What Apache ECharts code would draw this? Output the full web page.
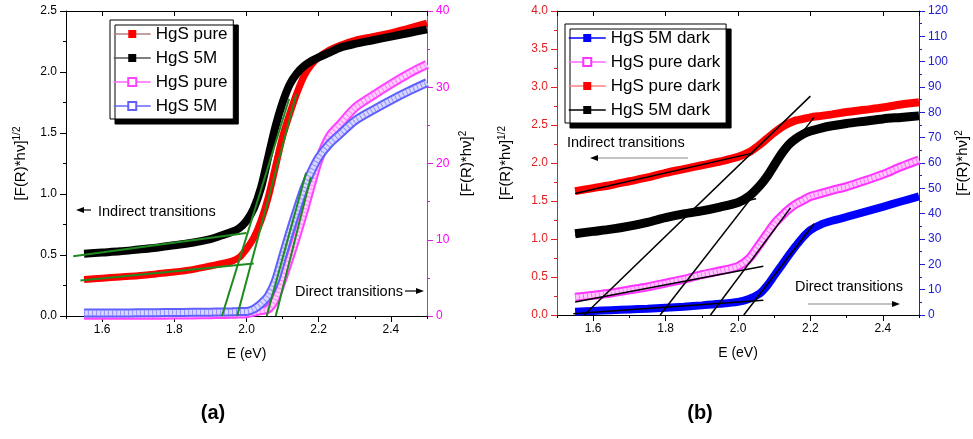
<!DOCTYPE html>
<html><head><meta charset="utf-8">
<script src="https://cdn.jsdelivr.net/npm/echarts@6/dist/echarts.min.js"></script>
<style>html,body{margin:0;padding:0;background:#fff}#c{width:973px;height:439px}</style>
</head><body><div id="c"></div>
<script>
// ---------- Panel (a) data ----------
const xA = [1.55,1.6,1.65,1.7,1.75,1.8,1.85,1.9,1.93,1.96,1.98,2.0,2.02,2.04,2.06,2.08,2.1,2.12,2.14,2.16,2.18,2.2,2.23,2.26,2.3,2.35,2.4,2.45,2.5];
const aPureIndirect = [0.30,0.31,0.32,0.33,0.345,0.36,0.38,0.41,0.43,0.45,0.48,0.55,0.64,0.78,0.97,1.22,1.47,1.66,1.83,1.97,2.06,2.12,2.18,2.22,2.26,2.29,2.32,2.36,2.40];
const a5MIndirect   = [0.51,0.52,0.53,0.545,0.56,0.58,0.60,0.63,0.66,0.69,0.72,0.78,0.88,1.05,1.30,1.55,1.75,1.90,1.99,2.05,2.09,2.12,2.16,2.20,2.23,2.26,2.29,2.32,2.35];
const aPureDirect   = [0.1,0.1,0.1,0.1,0.1,0.12,0.14,0.17,0.2,0.22,0.25,0.3,0.5,0.7,0.9,2.2,4.8,7.6,10.6,13.8,17.2,20.4,23.6,25.2,27.3,28.9,30.4,31.8,33.0];
const a5MDirect     = [0.4,0.4,0.4,0.42,0.44,0.46,0.48,0.5,0.52,0.55,0.58,0.6,0.9,1.6,2.6,4.6,7.8,11.0,14.0,16.8,19.0,20.8,22.6,23.9,25.6,27.0,28.3,29.5,30.6];
const aFitIndirect = [
  [[1.52,0.49],[2.0,0.68]],
  [[1.54,0.29],[2.02,0.43]],
  [[1.932,0],[2.118,1.78]],
  [[1.974,0],[2.138,1.82]]
];
const aFitDirect = [
  [[2.056,0],[2.165,18.8]],
  [[2.081,0],[2.178,18.2]]
];
const aTicksLeft = [0, 2.5, 0.5];
const aTicksRight = [0, 40, 10];

// ---------- Panel (b) data ----------
const xB = [1.55,1.6,1.65,1.7,1.75,1.8,1.85,1.9,1.95,2.0,2.03,2.06,2.08,2.1,2.12,2.14,2.16,2.18,2.2,2.23,2.26,2.3,2.35,2.4,2.45,2.5];
const b5MDirect     = [1.3,1.6,1.9,2.2,2.5,2.9,3.3,3.8,4.4,5.2,6.3,8.5,11.5,15.5,19.5,23.5,27.3,30.8,33.5,35.8,37.2,38.7,40.7,42.7,44.8,46.8];
const bPureDirect   = [7.0,7.8,8.7,9.9,11.1,12.6,14.1,15.9,17.4,19.2,22.2,28.0,32.0,36.0,39.0,41.7,43.8,45.3,46.8,48.0,49.2,50.7,53.0,55.5,58.5,61.2];
const bPureIndirect = [1.63,1.67,1.71,1.76,1.81,1.87,1.92,1.97,2.02,2.08,2.14,2.24,2.32,2.40,2.47,2.52,2.56,2.58,2.60,2.62,2.64,2.67,2.70,2.73,2.77,2.80];
const b5MIndirect   = [1.07,1.10,1.13,1.17,1.22,1.28,1.33,1.37,1.42,1.48,1.56,1.70,1.82,1.97,2.12,2.24,2.32,2.38,2.42,2.46,2.49,2.52,2.55,2.58,2.60,2.62];
const bFitLeft = [
  [[1.575,0],[2.2,2.88]],
  [[1.785,0],[2.21,2.6]],
  [[1.55,1.6],[2.04,2.13]],
  [[1.55,1.05],[2.05,1.53]]
];
const bFitRight = [
  [[1.924,0],[2.145,42.3]],
  [[2.016,0],[2.21,36]],
  [[1.55,5.1],[2.07,19.2]],
  [[1.545,0.5],[2.07,5.8]]
];
const bTicksLeft = [0, 4, 0.5];
const bTicksRight = [0, 120, 10];
const xRange = [1.5, 2.5];

// ---------- helpers ----------
const FONT = '"Liberation Sans", Arial, sans-serif';
const zip = (xs, ys) => xs.map((x, i) => [x, ys[i]]);

function xAxesFor(gi) {
  return [
    {gridIndex:gi, type:'value', min:xRange[0], max:xRange[1], splitNumber:5, position:'bottom',
     axisLine:{show:true, onZero:false, lineStyle:{color:'#000', width:1}},
     axisTick:{show:true, length:6, lineStyle:{color:'#000', width:1}},
     axisLabel:{show:true, showMinLabel:false, showMaxLabel:false, color:'#000', fontSize:12, fontFamily:FONT, margin:8, formatter:v=>v.toFixed(1)},
     splitLine:{show:false},
     name:'E (eV)', nameLocation:'middle', nameGap:31,
     nameTextStyle:{color:'#000', fontSize:14, fontFamily:FONT}},
    {gridIndex:gi, type:'value', min:xRange[0], max:xRange[1], interval:0.1, position:'bottom',
     axisLine:{show:false, onZero:false}, axisTick:{show:true, length:3, lineStyle:{color:'#000', width:1}},
     axisLabel:{show:false}, splitLine:{show:false}},
    {gridIndex:gi, type:'value', min:xRange[0], max:xRange[1], splitNumber:5, position:'top',
     axisLine:{show:true, onZero:false, lineStyle:{color:'#000', width:1}},
     axisTick:{show:true, inside:true, length:5, lineStyle:{color:'#000', width:1}},
     axisLabel:{show:false}, splitLine:{show:false}}
  ];
}
function yAxis(gi, pos, t, color, labelColor, sup, gap) {
  return {gridIndex:gi, type:'value', position:pos, min:t[0], max:t[1], interval:t[2],
    axisLine:{show:true, onZero:false, lineStyle:{color:color, width:1}},
    axisTick:{show:true, length:6, lineStyle:{color:color, width:1}},
    minorTick:{show:true, splitNumber:2, length:3, lineStyle:{color:color, width:1}},
    axisLabel:{color:labelColor, fontSize:12, fontFamily:FONT, margin:9,
      formatter: v => (t[2] < 1 ? v.toFixed(1) : String(v))},
    splitLine:{show:false}, minorSplitLine:{show:false},
    name:'[F(R)*hν]{s|' + sup + '}', nameLocation:'middle', nameRotate:90, nameGap:gap,
    nameTextStyle:{color:'#000', fontSize:15, fontFamily:FONT, lineHeight:18,
      rich:{s:{fontSize:10, fontFamily:FONT, color:'#000', verticalAlign:'top', lineHeight:10}}}
  };
}
function band(name, data, xi, yi, color, width) {
  return {type:'line', name, data, xAxisIndex:xi, yAxisIndex:yi, symbol:'rect', showSymbol:false,
    smooth:0.3, lineStyle:{color, width}, itemStyle:{color}, silent:true, animation:false};
}
function hollow(name, data, xi, yi, color, light) {
  return [
    {type:'line', name, data, xAxisIndex:xi, yAxisIndex:yi, symbol:'emptyRect', showSymbol:false,
     smooth:0.3, lineStyle:{color, width:9}, itemStyle:{color}, silent:true, animation:false},
    {type:'line', data, xAxisIndex:xi, yAxisIndex:yi, symbol:'none',
     smooth:0.3, lineStyle:{color:light, width:5}, silent:true, animation:false},
    {type:'line', data, xAxisIndex:xi, yAxisIndex:yi, symbol:'none',
     smooth:0.3, lineStyle:{color, width:5, type:[1,3], opacity:0.6}, silent:true, animation:false}
  ];
}
function fits(lines, xi, yi, color, width) {
  return lines.map(l => ({type:'line', data:l, xAxisIndex:xi, yAxisIndex:yi, symbol:'none',
    lineStyle:{color, width}, silent:true, animation:false, z:5}));
}
function legendFor(left, top, names, lineColors) {
  return {left, top, orient:'vertical', selectedMode:false,
    data: names.map((n, i) => ({name:n, lineStyle:{color:lineColors[i]}})),
    itemWidth:37, itemHeight:10, itemGap:6, padding:[5,1,4,3],
    backgroundColor:'#fff', borderColor:'#000', borderWidth:1,
    shadowColor:'#000', shadowOffsetX:5, shadowOffsetY:5, shadowBlur:0,
    lineStyle:{width:1.5},
    textStyle:{fontSize:17, lineHeight:18, color:'#000', fontFamily:FONT}};
}
function arrow(x1, y, x2, lineColor, headColor) {
  const dir = x2 > x1 ? 1 : -1;
  return [
    {type:'line', shape:{x1:x1, y1:y, x2:x2 - dir*5, y2:y}, style:{stroke:lineColor, lineWidth:1.2}, silent:true},
    {type:'polygon', shape:{points:[[x2, y],[x2 - dir*8, y-3],[x2 - dir*8, y+3]]}, style:{fill:headColor}, silent:true}
  ];
}
function label(x, y, text, size, weight, align) {
  return {type:'text', x, y, style:{text, fill:'#000', font:(weight||'normal') + ' ' + size + 'px ' + FONT,
    textAlign:align||'left', textVerticalAlign:'middle'}, silent:true};
}

const RED = '#ff0000', BLACK = '#000000', BLUE = '#0000ff';
const MAG = '#dd22dd', LRED = '#e02020', RBLUE = '#2020d0';

const option = {
  backgroundColor:'#fff',
  animation:false,
  grid:[
    {left:66, top:11, width:361, height:305, outerBoundsMode:'none', containLabel:false},
    {left:557, top:11, width:362, height:304, outerBoundsMode:'none', containLabel:false}
  ],
  xAxis: xAxesFor(0).concat(xAxesFor(1)),
  yAxis: [
    yAxis(0, 'left', aTicksLeft, '#000', '#000', '1/2', 36),
    yAxis(0, 'right', aTicksRight, MAG, '#ff00ff', '2', 31),
    yAxis(1, 'left', bTicksLeft, LRED, LRED, '1/2', 42),
    yAxis(1, 'right', bTicksRight, RBLUE, RBLUE, '2', 35)
  ],
  legend:[
    legendFor(110, 20, ['HgS pure','HgS 5M','HgS pure ','HgS 5M '], ['#b08080','#555','#ff66ff','#6666ff']),
    legendFor(565, 24, ['HgS 5M dark','HgS pure dark','HgS pure dark ','HgS 5M dark '], ['#0000ff','#ff66ff','#ff8080','#000'])
  ],
  series: [].concat(
    band('HgS pure', zip(xA, aPureIndirect), 0, 0, RED, 7),
    band('HgS 5M', zip(xA, a5MIndirect), 0, 0, BLACK, 8),
    hollow('HgS pure ', zip(xA, aPureDirect), 0, 1, '#ff44ff', '#ffd0ff'),
    hollow('HgS 5M ', zip(xA, a5MDirect), 0, 1, '#6060ff', '#d8d8ff'),
    fits(aFitIndirect, 0, 0, '#1f8a1f', 2),
    fits(aFitDirect, 0, 1, '#1f8a1f', 2),
    band('HgS 5M dark', zip(xB, b5MDirect), 3, 3, BLUE, 8),
    hollow('HgS pure dark', zip(xB, bPureDirect), 3, 3, '#ff33ff', '#ffc8ff'),
    band('HgS pure dark ', zip(xB, bPureIndirect), 3, 2, RED, 8),
    band('HgS 5M dark ', zip(xB, b5MIndirect), 3, 2, BLACK, 9),
    fits(bFitLeft, 3, 2, '#000', 1.5),
    fits(bFitRight, 3, 3, '#000', 1.5)
  ),
  graphic: [].concat(
    arrow(91, 210, 76, '#000', '#000'),
    [label(98, 212, 'Indirect transitions', 14.5)],
    [label(295, 292, 'Direct transitions', 14.5)],
    arrow(405, 291, 424, '#000', '#000'),
    [label(567, 143, 'Indirect transitions', 14.5)],
    arrow(688, 158, 590, '#888', '#000'),
    [label(795, 287, 'Direct transitions', 14.5)],
    arrow(808, 304, 900, '#888', '#000'),
    [label(213, 413, '(a)', 20, 'bold', 'center')],
    [label(700, 413, '(b)', 20, 'bold', 'center')]
  )
};
const chart = echarts.init(document.getElementById('c'), null, {renderer:'canvas'});
chart.setOption(option);
</script></body></html>
